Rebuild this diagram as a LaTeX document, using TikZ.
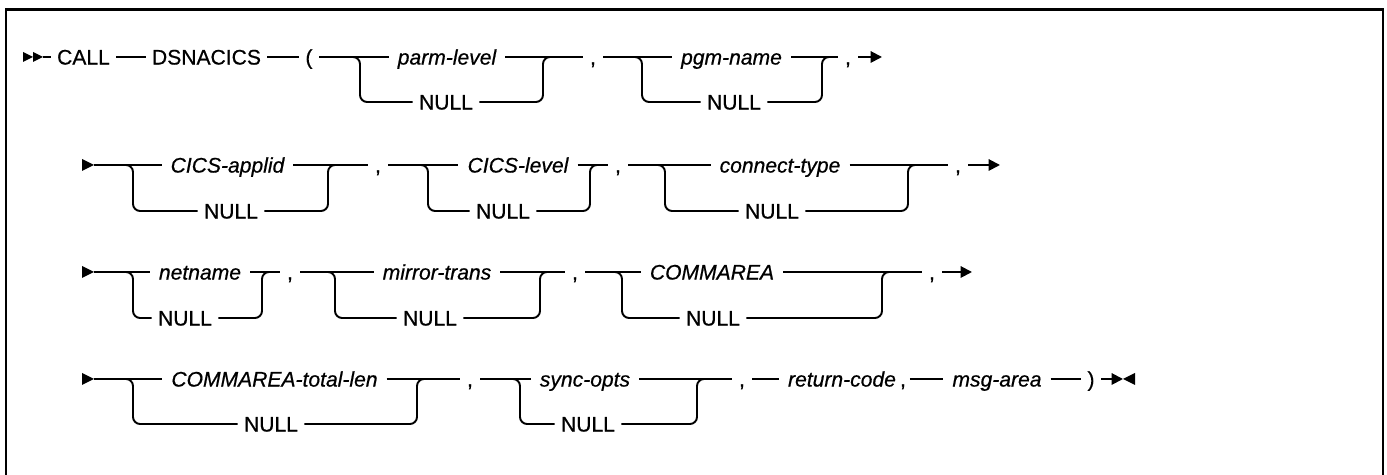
\documentclass[tikz,border=0pt]{standalone}
\usepackage{fontspec}
\setmainfont{Liberation Sans}[FakeBold=0.6]
\usetikzlibrary{arrows.meta,positioning}

\begin{document}
\begin{tikzpicture}[
    x=0.02cm, y=-0.02cm,
    every node/.style={font=\fontsize{12}{14}\selectfont, inner ysep=2pt, text height=8.6pt, text depth=0pt},
    kw/.style={inner xsep=3.5pt},
    var/.style={inner xsep=5pt, font=\fontsize{12}{14}\selectfont\itshape},
    sep/.style={inner xsep=4pt},
    rail/.style={line width=1.1pt},
    fork/.style={rail, rounded corners=4pt},
    tip/.style={rail, -{Triangle[length=6.5pt,width=6.5pt]}},
    frame/.style={line width=1.4pt}
]
\useasboundingbox (0,0) rectangle (1387,475);
\draw[frame] (6,475) |- (1383,9.5) -- (1383,475);

% row 1
\fill (23,52) -- (33,57) -- (23,62) -- cycle;
\fill (33,52) -- (43,57) -- (33,62) -- cycle;
\coordinate (go1) at (43,57);
\node[kw] (call) at (83.5,57) {CALL};
\node[kw] (dsn) at (206.5,57) {DSNACICS};
\node[kw] (lpar) at (309,57) {(};
\draw[rail] (go1) -- (call);
\draw[rail] (call) -- (dsn);
\draw[rail] (dsn) -- (lpar);

\coordinate (s1) at (360,57); \coordinate (j1) at (543,57);
\node[var] (parm) at (447,57) {parm-level};
\node[kw] (null1) at (446,102) {NULL};
\node[sep] (c1) at (593,57) {,};
\draw[rail] (lpar) -- (parm);
\draw[rail] (parm) -- (c1);
\draw[fork] (lpar.east) -- (s1) |- (null1);
\draw[fork] (null1) -| (j1) -- (c1.west);

\coordinate (s2) at (642,57); \coordinate (j2) at (822,57);
\node[var] (pgm) at (731.5,57) {pgm-name};
\node[kw] (null2) at (734,102) {NULL};
\node[sep] (c2) at (848,57) {,};
\coordinate (e1) at (882,57);
\draw[rail] (c1) -- (pgm);
\draw[rail] (pgm) -- (c2);
\draw[fork] (c1.east) -- (s2) |- (null2);
\draw[fork] (null2) -| (j2) -- (c2.west);
\draw[tip] (c2) -- (e1);

% row 2
\fill (82,159) -- (94,165) -- (82,171) -- cycle;
\coordinate (go2) at (94,165);

\coordinate (s3) at (133,165); \coordinate (j3) at (328,165);
\node[var] (applid) at (227.5,165) {CICS-applid};
\node[kw] (null3) at (231,211) {NULL};
\node[sep] (c3) at (378,165) {,};
\draw[rail] (go2) -- (applid);
\draw[rail] (applid) -- (c3);
\draw[fork] (go2) -- (s3) |- (null3);
\draw[fork] (null3) -| (j3) -- (c3.west);

\coordinate (s4) at (428,165); \coordinate (j4) at (590,165);
\node[var] (level) at (518,165) {CICS-level};
\node[kw] (null4) at (503,211) {NULL};
\node[sep] (c4) at (618,165) {,};
\draw[rail] (c3) -- (level);
\draw[rail] (level) -- (c4);
\draw[fork] (c3.east) -- (s4) |- (null4);
\draw[fork] (null4) -| (j4) -- (c4.west);

\coordinate (s5) at (665,165); \coordinate (j5) at (908,165);
\node[var] (ctype) at (780,165) {connect-type};
\node[kw] (null5) at (772,211) {NULL};
\node[sep] (c5) at (958,165) {,};
\coordinate (e2) at (1000,165);
\draw[rail] (c4) -- (ctype);
\draw[rail] (ctype) -- (c5);
\draw[fork] (c4.east) -- (s5) |- (null5);
\draw[fork] (null5) -| (j5) -- (c5.west);
\draw[tip] (c5) -- (e2);

% row 3
\fill (82,266) -- (94,272) -- (82,278) -- cycle;
\coordinate (go3) at (94,272);

\coordinate (s6) at (133,272); \coordinate (j6) at (262,272);
\node[var] (net) at (200,272) {netname};
\node[kw] (null6) at (185,318) {NULL};
\node[sep] (c6) at (290,272) {,};
\draw[rail] (go3) -- (net);
\draw[rail] (net) -- (c6);
\draw[fork] (go3) -- (s6) |- (null6);
\draw[fork] (null6) -| (j6) -- (c6.west);

\coordinate (s7) at (335,272); \coordinate (j7) at (540,272);
\node[var] (mirror) at (437,272) {mirror-trans};
\node[kw] (null7) at (430,318) {NULL};
\node[sep] (c7) at (575,272) {,};
\draw[rail] (c6) -- (mirror);
\draw[rail] (mirror) -- (c7);
\draw[fork] (c6.east) -- (s7) |- (null7);
\draw[fork] (null7) -| (j7) -- (c7.west);

\coordinate (s8) at (622,272); \coordinate (j8) at (882,272);
\node[var] (comm) at (712,272) {COMMAREA};
\node[kw] (null8) at (713,318) {NULL};
\node[sep] (c8) at (932,272) {,};
\coordinate (e3) at (972,272);
\draw[rail] (c7) -- (comm);
\draw[rail] (comm) -- (c8);
\draw[fork] (c7.east) -- (s8) |- (null8);
\draw[fork] (null8) -| (j8) -- (c8.west);
\draw[tip] (c8) -- (e3);

% row 4
\fill (82,373) -- (94,379) -- (82,385) -- cycle;
\coordinate (go4) at (94,379);

\coordinate (s9) at (133,379); \coordinate (j9) at (417,379);
\node[var] (total) at (274.5,379) {COMMAREA-total-len};
\node[kw] (null9) at (271,424) {NULL};
\node[sep] (c9) at (470,379) {,};
\draw[rail] (go4) -- (total);
\draw[rail] (total) -- (c9);
\draw[fork] (go4) -- (s9) |- (null9);
\draw[fork] (null9) -| (j9) -- (c9.west);

\coordinate (s10) at (520,379); \coordinate (j10) at (697,379);
\node[var] (sync) at (585,379) {sync-opts};
\node[kw] (null10) at (588,424) {NULL};
\node[sep] (c10) at (742,379) {,};
\draw[rail] (c9) -- (sync);
\draw[rail] (sync) -- (c10);
\draw[fork] (c9.east) -- (s10) |- (null10);
\draw[fork] (null10) -| (j10) -- (c10.west);

\node[var] (rc) at (842,379) {return-code};
\node[sep, inner xsep=2pt] (c11) at (903,379) {,};
\node[var] (msg) at (997,379) {msg-area};
\node[kw] (rpar) at (1091,379) {)};
\coordinate (e4) at (1123,379);
\draw[rail] (c10) -- (rc);
\draw[rail] (c11) -- (msg);
\draw[rail] (msg) -- (rpar);
\draw[tip] (rpar) -- (e4);
\fill (1135,373) -- (1123,379) -- (1135,385) -- cycle;
\end{tikzpicture}
\end{document}
